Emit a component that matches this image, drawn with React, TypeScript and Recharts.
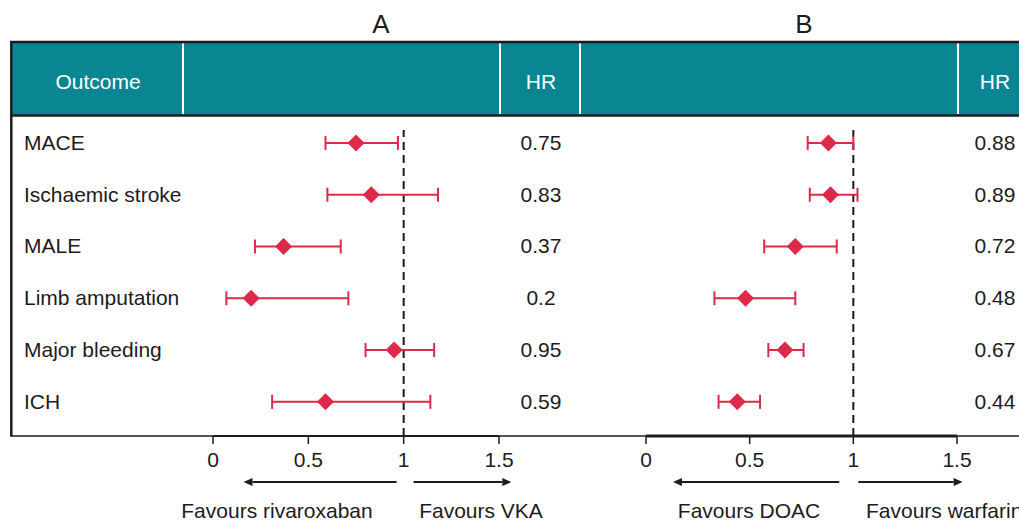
import React from "react";
import {
  ComposedChart,
  Scatter,
  ErrorBar,
  XAxis,
  YAxis,
  ReferenceLine,
} from "recharts";

const outcomes = [
  "MACE",
  "Ischaemic stroke",
  "MALE",
  "Limb amputation",
  "Major bleeding",
  "ICH",
];

// panel A: rivaroxaban vs VKA
const hrA = [0.75, 0.83, 0.37, 0.2, 0.95, 0.59];
const loA = [0.59, 0.6, 0.22, 0.07, 0.8, 0.31];
const hiA = [0.97, 1.18, 0.67, 0.71, 1.16, 1.14];
const hrLabelsA = ["0.75", "0.83", "0.37", "0.2", "0.95", "0.59"];

// panel B: DOAC vs warfarin
const hrB = [0.88, 0.89, 0.72, 0.48, 0.67, 0.44];
const loB = [0.78, 0.79, 0.57, 0.33, 0.59, 0.35];
const hiB = [1.0, 1.02, 0.92, 0.72, 0.76, 0.55];
const hrLabelsB = ["0.88", "0.89", "0.72", "0.48", "0.67", "0.44"];

const xTicks = [0, 0.5, 1, 1.5];
const rowTicks = [0, 1, 2, 3, 4, 5];
const rowDomain: [number, number] = [-0.25, 5.66];
const arrowRow = 6.55;

// arrows under each axis: [start, tip]
const arrowsA = [
  [0.963, 0.16],
  [1.052, 1.565],
];
const arrowsB = [
  [0.932, 0.13],
  [1.024, 1.527],
];

const TEAL = "#0a8592";
const RED = "#de2a4a";
const INK = "#1c1c1c";
const FONT = "'Liberation Sans', Arial, Helvetica, sans-serif";

const buildRows = (hr: number[], lo: number[], hi: number[]) =>
  hr.map((v, i) => ({ row: i, hr: v, err: [v - lo[i], hi[i] - v] }));

const Diamond = (props: any) => {
  const { cx, cy } = props;
  const r = 8.5;
  return (
    <polygon
      points={`${cx},${cy - r} ${cx + r},${cy} ${cx},${cy + r} ${cx - r},${cy}`}
      fill={RED}
    />
  );
};

const Arrow = (props: any) => {
  const { x1, y1, x2, y2 } = props;
  const dir = x2 > x1 ? 1 : -1;
  const len = 9;
  return (
    <g>
      <line
        x1={x1}
        y1={y1}
        x2={x2 - dir * len}
        y2={y2}
        stroke={INK}
        strokeWidth={2}
      />
      <polygon
        points={`${x2},${y2} ${x2 - dir * len},${y2 - 4} ${x2 - dir * len},${y2 + 4}`}
        fill={INK}
      />
    </g>
  );
};

interface PanelProps {
  hr: number[];
  lo: number[];
  hi: number[];
  hrLabels: string[];
  arrows: number[][];
  width: number;
  left: number;
  marginLeft: number;
  labelWidth: number;
  hrWidth: number;
  hrX: number;
  showLabels: boolean;
  axisWidth: number;
}

const Panel = (p: PanelProps) => {
  const rows = buildRows(p.hr, p.lo, p.hi);

  const labelTick = (props: any) => (
    <text
      x={24}
      y={props.y}
      dy={7}
      textAnchor="start"
      fontSize={21}
      fill={INK}
      fontFamily={FONT}
    >
      {outcomes[props.payload.value]}
    </text>
  );

  const hrTick = (props: any) => (
    <text
      x={p.hrX}
      y={props.y}
      dy={7}
      textAnchor="middle"
      fontSize={21}
      fill={INK}
      fontFamily={FONT}
    >
      {p.hrLabels[props.payload.value]}
    </text>
  );

  return (
    <div style={{ position: "absolute", left: p.left, top: 0 }}>
      <ComposedChart
        width={p.width}
        height={522}
        data={rows}
        margin={{ top: 130, right: 0, bottom: 56, left: p.marginLeft }}
      >
        <XAxis
          type="number"
          dataKey="hr"
          domain={[0, 1.5]}
          ticks={xTicks}
          allowDataOverflow
          height={30}
          tickSize={8}
          tickMargin={8}
          axisLine={{ stroke: INK, strokeWidth: p.axisWidth }}
          tickLine={{ stroke: INK, strokeWidth: 1.5 }}
          tick={{ fill: INK, fontSize: 21, fontFamily: FONT }}
        />
        <YAxis
          yAxisId="label"
          type="number"
          dataKey="row"
          domain={rowDomain}
          ticks={rowTicks}
          reversed
          allowDataOverflow
          hide={!p.showLabels}
          width={p.labelWidth}
          axisLine={false}
          tickLine={false}
          tick={labelTick}
        />
        <YAxis
          yAxisId="hr"
          orientation="right"
          type="number"
          domain={rowDomain}
          ticks={rowTicks}
          reversed
          allowDataOverflow
          width={p.hrWidth}
          axisLine={false}
          tickLine={false}
          tick={hrTick}
        />
        <ReferenceLine
          yAxisId="label"
          x={1}
          stroke={INK}
          strokeWidth={2}
          strokeDasharray="8 5"
        />
        {p.arrows.map((a, i) => (
          <ReferenceLine
            key={`arrow-${i}`}
            yAxisId="label"
            ifOverflow="visible"
            segment={[
              { x: a[0], y: arrowRow },
              { x: a[1], y: arrowRow },
            ]}
            shape={Arrow}
          />
        ))}
        <Scatter
          yAxisId="label"
          dataKey="hr"
          shape={Diamond}
          isAnimationActive={false}
        >
          <ErrorBar
            dataKey="err"
            direction="x"
            width={7}
            stroke={RED}
            strokeWidth={2}
          />
        </Scatter>
      </ComposedChart>
    </div>
  );
};

const Frame = () => (
  <svg
    width={1019}
    height={522}
    style={{ position: "absolute", left: 0, top: 0 }}
    fontFamily={FONT}
  >
    <text x={381} y={33} fontSize={26} textAnchor="middle" fill={INK}>
      A
    </text>
    <text x={804} y={33} fontSize={26} textAnchor="middle" fill={INK}>
      B
    </text>
    <rect x={11} y={42} width={1010} height={73} fill={TEAL} />
    <line x1={10} y1={42} x2={1019} y2={42} stroke={INK} strokeWidth={2.5} />
    <line x1={10} y1={115.5} x2={1019} y2={115.5} stroke={INK} strokeWidth={2.5} />
    <line x1={11.3} y1={41} x2={11.3} y2={436.5} stroke={INK} strokeWidth={2.5} />
    <line x1={11} y1={436} x2={1019} y2={436} stroke={INK} strokeWidth={1.6} />
    {[183, 500, 580, 958].map((x) => (
      <line key={x} x1={x} y1={43.5} x2={x} y2={114} stroke="#ffffff" strokeWidth={2} />
    ))}
    <text x={98} y={89} fontSize={21} textAnchor="middle" fill="#ffffff">
      Outcome
    </text>
    <text x={541} y={89} fontSize={21} textAnchor="middle" fill="#ffffff">
      HR
    </text>
    <text x={995} y={89} fontSize={21} textAnchor="middle" fill="#ffffff">
      HR
    </text>
    <text x={277} y={518} fontSize={21} textAnchor="middle" fill={INK}>
      Favours rivaroxaban
    </text>
    <text x={481} y={518} fontSize={21} textAnchor="middle" fill={INK}>
      Favours VKA
    </text>
    <text x={749} y={518} fontSize={21} textAnchor="middle" fill={INK}>
      Favours DOAC
    </text>
    <text x={866} y={518} fontSize={21} textAnchor="start" fill={INK}>
      Favours warfarin
    </text>
  </svg>
);

export default function App() {
  return (
    <div
      style={{
        position: "absolute",
        left: 0,
        top: 0,
        width: 1019,
        height: 522,
        overflow: "hidden",
        background: "#ffffff",
        fontFamily: FONT,
      }}
    >
      <Frame />
      <Panel
        hr={hrA}
        lo={loA}
        hi={hiA}
        hrLabels={hrLabelsA}
        arrows={arrowsA}
        width={580}
        left={0}
        marginLeft={25}
        labelWidth={188}
        hrWidth={81}
        hrX={541}
        showLabels={true}
        axisWidth={2}
      />
      <Panel
        hr={hrB}
        lo={loB}
        hi={hiB}
        hrLabels={hrLabelsB}
        arrows={arrowsB}
        width={439}
        left={580}
        marginLeft={66}
        labelWidth={0}
        hrWidth={62}
        hrX={415}
        showLabels={false}
        axisWidth={3}
      />
    </div>
  );
}
